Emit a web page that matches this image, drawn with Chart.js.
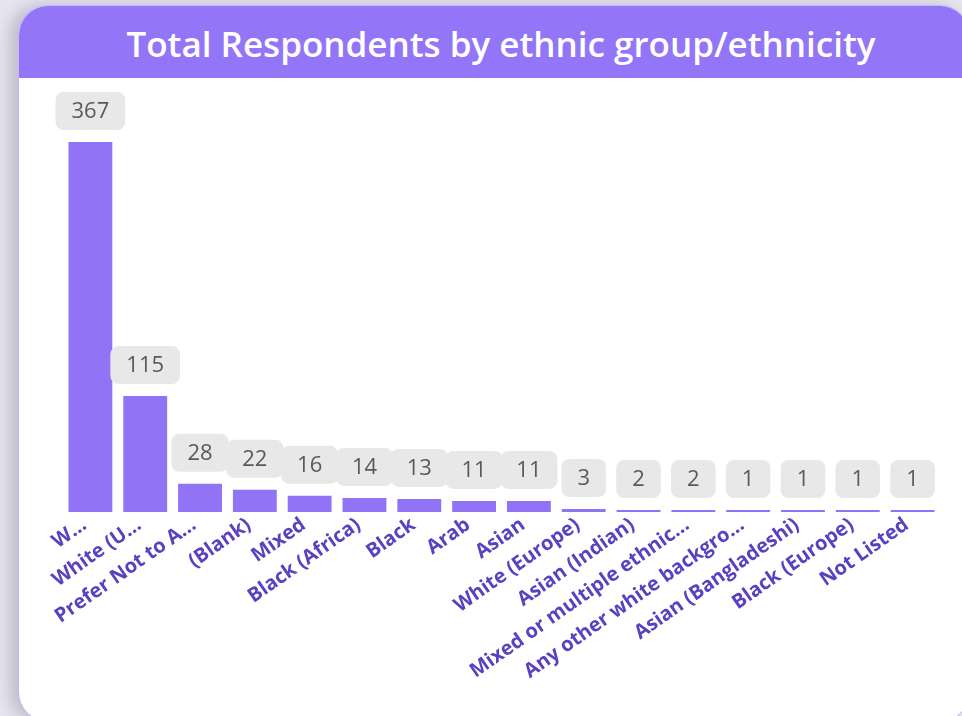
<!DOCTYPE html>
<html>
<head>
<meta charset="utf-8">
<script src="https://cdn.jsdelivr.net/npm/chart.js@4.4.1/dist/chart.umd.min.js"></script>
<style>
  html, body { margin:0; padding:0; width:962px; height:716px; overflow:hidden; background:#e6e4ee; }
  #card { position:absolute; left:18px; top:5px; width:950px; height:715px; background:#fff;
          border:1px solid #c3b6fb; border-radius:30px; overflow:hidden;
          box-shadow:-8px 0 14px rgba(60,50,90,0.22); }
  #header { position:absolute; left:0; top:0; right:0; height:72px; background:#9276f7;
            color:#fff; font-family:"Open Sans", sans-serif; font-weight:600; font-size:35px;
            line-height:72px; text-align:center; }
  #header span { position:absolute; left:0; width:964px; text-align:center; top:2px; }
  #wrap { position:absolute; left:0; top:0; width:962px; height:716px; }
</style>
</head>
<body>
<div id="card"><div id="header"><span>Total Respondents by ethnic group/ethnicity</span></div></div>
<div id="wrap"><canvas id="c"></canvas></div>
<script>
const categories = ["W…", "White (U…", "Prefer Not to A…", "(Blank)", "Mixed", "Black (Africa)", "Black", "Arab", "Asian", "White (Europe)", "Asian (Indian)", "Mixed or multiple ethnic…", "Any other white backgro…", "Asian (Bangladeshi)", "Black (Europe)", "Not Listed"];
const respondents = [367, 115, 28, 22, 16, 14, 13, 11, 11, 3, 2, 2, 1, 1, 1, 1];
const yMax = 367;

const boxLabels = {
  id: 'boxLabels',
  afterDatasetsDraw(chart) {
    const ctx = chart.ctx;
    const meta = chart.getDatasetMeta(0);
    ctx.save();
    ctx.font = '22px "Open Sans", sans-serif';
    ctx.textAlign = 'center';
    ctx.textBaseline = 'middle';
    meta.data.forEach((bar, i) => {
      const txt = String(chart.data.datasets[0].data[i]);
      const w = ctx.measureText(txt).width + 32;
      const h = 38;
      const bottom = bar.y - 12;
      const x = bar.x - w / 2;
      ctx.fillStyle = '#e8e8e8';
      ctx.beginPath();
      ctx.roundRect(x, bottom - h, w, h, 8);
      ctx.fill();
      ctx.fillStyle = '#5a5a5a';
      ctx.fillText(txt, bar.x, bottom - h / 2 + 1);
    });
    ctx.restore();
  }
};

new Chart(document.getElementById('c'), {
  type: 'bar',
  data: {
    labels: categories,
    datasets: [{
      data: respondents,
      backgroundColor: '#9173f6',
      barPercentage: 0.8,
      categoryPercentage: 1.0,
      minBarLength: 2
    }]
  },
  options: {
    responsive: true,
    maintainAspectRatio: false,
    animation: false,
    layout: { padding: { left: 63, right: 22, top: 142, bottom: 0 } },
    plugins: { legend: { display: false }, tooltip: { enabled: false } },
    scales: {
      y: { display: false, min: 0, max: yMax },
      x: {
        grid: { display: false },
        border: { display: false },
        ticks: {
          autoSkip: false,
          minRotation: 35,
          maxRotation: 35,
          padding: -7,
          labelOffset: -6,
          color: '#5a40c2',
          font: { family: '"Open Sans", sans-serif', weight: 'bold', size: 20 }
        },
        afterFit(scale) { scale.height = 204; }
      }
    }
  },
  plugins: [boxLabels]
});
</script>
</body>
</html>
